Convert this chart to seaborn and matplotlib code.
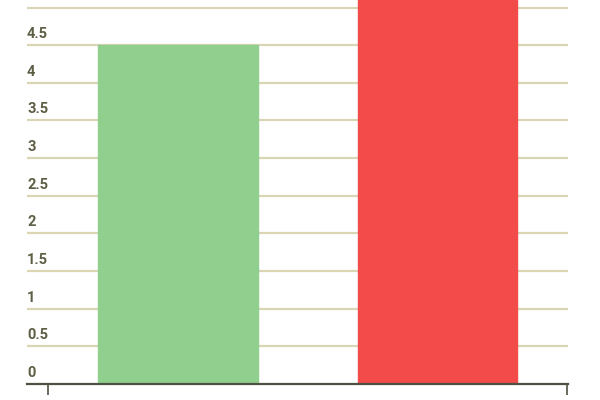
import matplotlib
matplotlib.use("Agg")
import matplotlib.pyplot as plt
import matplotlib.transforms as mtransforms
import pandas as pd
import seaborn as sns

# chart data
categories = ["Green", "Red"]
values = [4.5, 5.5]  # red bar runs off the top of the picture, value estimated
bar_colors = ["#91cf8f", "#f34b4a"]
y_ticks = [0, 0.5, 1, 1.5, 2, 2.5, 3, 3.5, 4, 4.5, 5]
y_tick_labels = ["0", "0.5", "1", "1.5", "2", "2.5", "3", "3.5", "4", "4.5", "5"]

GRID = "#d9d5b5"
TEXT = "#5e5e44"
AXIS = "#4d5342"

sns.set_theme(style="white")
plt.rcParams["font.family"] = ["Roboto", "DejaVu Sans"]

df = pd.DataFrame({"category": categories, "value": values})

fig = plt.figure(figsize=(6, 4), dpi=100)
ax = fig.add_axes([27 / 600, 16 / 400, 541 / 600, 384 / 400])

sns.barplot(data=df, x="category", y="value", hue="category",
            palette=bar_colors, width=0.615, saturation=1,
            legend=False, ax=ax, zorder=3)
for patch, c in zip(ax.patches, bar_colors):
    patch.set_edgecolor(c)
    patch.set_linewidth(1)

ax.set_xlim(-0.581, 1.502)
ax.set_ylim(0, 5.1)

# grid lines and labels sitting on top of them
for v, lab in zip(y_ticks, y_tick_labels):
    if v > 0:
        ax.axhline(v, color=GRID, lw=1.6, zorder=1)
    trans = mtransforms.offset_copy(ax.get_yaxis_transform(), fig=fig, x=0, y=3, units="points")
    ax.text(0, v, lab, transform=trans, ha="left", va="bottom",
            fontsize=10.5, fontweight="bold", color=TEXT, zorder=4)

ax.set_yticks([])
ax.set_xticks([-0.5, 1.5])
ax.set_xticklabels([])
ax.tick_params(axis="x", length=8, width=1.2, color=AXIS, direction="out", bottom=True)
ax.set_xlabel("")
ax.set_ylabel("")

for side in ["top", "left", "right"]:
    ax.spines[side].set_visible(False)
ax.spines["bottom"].set_color(AXIS)
ax.spines["bottom"].set_linewidth(1.6)
ax.spines["bottom"].set_zorder(5)

fig.savefig("out.png", dpi=100)
